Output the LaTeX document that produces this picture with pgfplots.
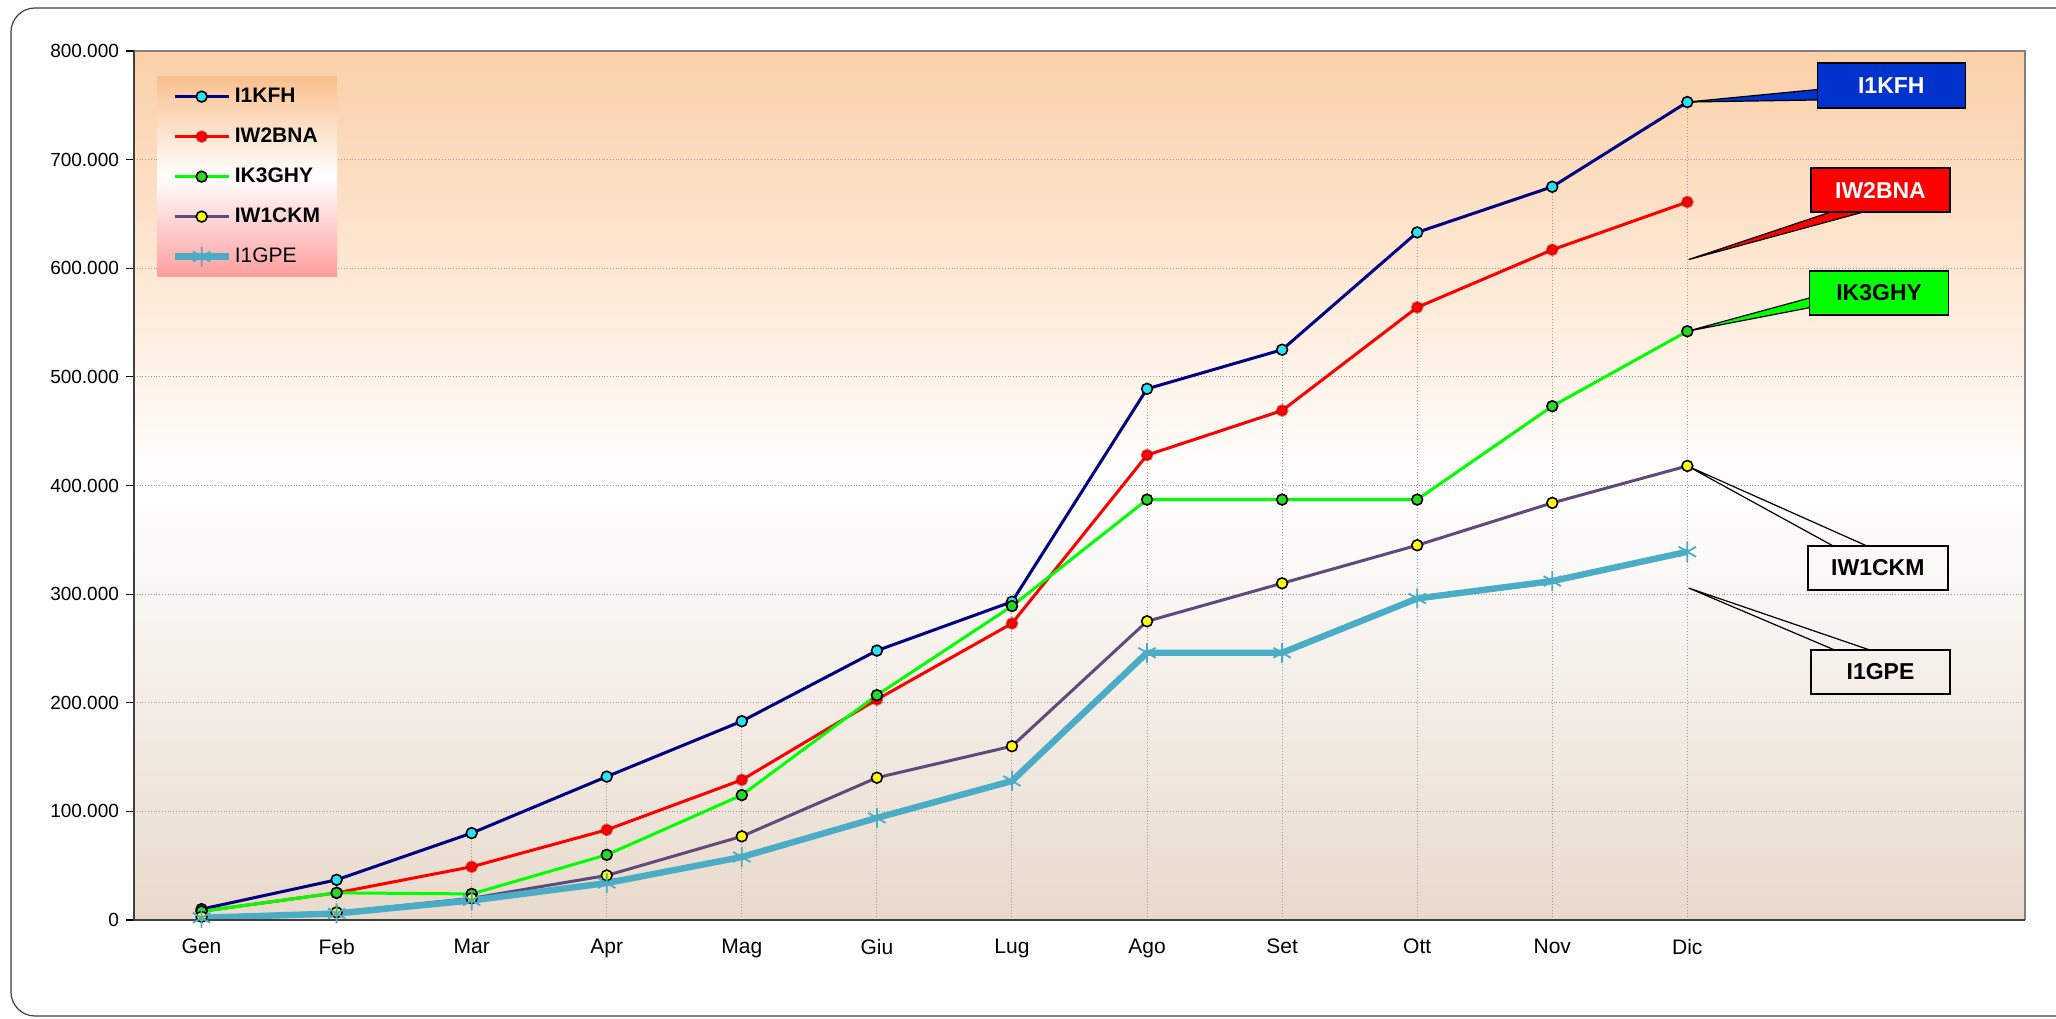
\documentclass[border=0pt]{standalone}
\usepackage{pgfplots}
\pgfplotsset{compat=1.18}
\usepackage{fontspec}
\setmainfont{Liberation Sans}
\definecolor{kfhline}{RGB}{0,0,128}
\definecolor{kfhmark}{RGB}{40,225,250}
\definecolor{bnaline}{RGB}{255,0,0}
\definecolor{ghyline}{RGB}{0,255,0}
\definecolor{ghymark}{RGB}{40,215,40}
\definecolor{ckmline}{RGB}{96,74,123}
\definecolor{ckmmark}{RGB}{255,255,0}
\definecolor{gpeline}{RGB}{75,172,198}
\definecolor{bgtop}{RGB}{251,208,168}
\definecolor{bgbot}{RGB}{232,218,204}
\definecolor{legtop}{RGB}{250,192,142}
\definecolor{legbot}{RGB}{255,158,158}
\definecolor{kfhbox}{RGB}{0,51,204}
\begin{document}
\begin{tikzpicture}
\useasboundingbox (0pt,0pt) rectangle (1028pt,509pt);
\fill[white] (0pt,0pt) rectangle (1028pt,509pt);
\draw[black!75, line width=0.6pt, rounded corners=12pt] (5.5pt,1pt) rectangle (1040pt,505pt);
\begin{axis}[
  at={(67pt,49pt)}, anchor=south west,
  scale only axis, width=945.5pt, height=434.5pt,
  clip=false,
  xmin=-0.5, xmax=13.5, ymin=0, ymax=800000,
  xtick={0,1,2,3,4,5,6,7,8,9,10,11},
  xticklabels={Gen,Feb,Mar,Apr,Mag,Giu,Lug,Ago,Set,Ott,Nov,Dic},
  minor xtick={-0.5,0.5,1.5,2.5,3.5,4.5,5.5,6.5,7.5,8.5,9.5,10.5,11.5,12.5,13.5},
  ytick={0,100000,200000,300000,400000,500000,600000,700000,800000},
  yticklabels={0,100.000,200.000,300.000,400.000,500.000,600.000,700.000,800.000},
  scaled y ticks=false,
  tick align=outside, tick pos=left,
  xtick style={draw=none},
  minor tick length=4pt, major tick length=4pt,
  minor tick style={black, line width=0.6pt},
  ytick style={black, line width=0.6pt},
  ymajorgrids, grid style={gray!80, densely dotted, line width=0.5pt},
  axis line style={draw=none},
  xticklabel style={font=\fontsize{10.5}{12}\selectfont, yshift=-2pt},
  yticklabel style={font=\fontsize{9.5}{11}\selectfont},
  axis background/.style={shade, top color=bgtop, bottom color=bgbot, middle color=white},
  legend cell align=left,
  legend style={at={(0.0122,0.971)}, anchor=north west, draw=none,
    shade, top color=legtop, bottom color=legbot, middle color=white,
    inner xsep=7pt, inner ysep=0pt,
    font=\fontsize{10.5}{12}\selectfont,
    nodes={minimum height=20pt, inner sep=1.5pt}},
  legend image code/.code={\draw[mark repeat=2,mark phase=2] plot coordinates {(0pt,0pt) (13.5pt,0pt) (27pt,0pt)};},
]
\addplot[ycomb, gray!80, densely dotted, line width=0.5pt, no marks, forget plot] coordinates {
(0,10000) (1,37000) (2,80000) (3,132000) (4,183000) (5,248000) (6,293000) (7,489000) (8,525000) (9,633000) (10,675000) (11,753000)};
\addplot[kfhline, line width=1.5pt, mark=*, mark size=2.7pt, mark options={fill=kfhmark, draw=black, line width=0.8pt}] coordinates {
(0,10000) (1,37000) (2,80000) (3,132000) (4,183000) (5,248000) (6,293000) (7,489000) (8,525000) (9,633000) (10,675000) (11,753000)};
\addlegendentry{\textbf{I1KFH}}
\addplot[bnaline, line width=1.5pt, mark=*, mark size=2.7pt, mark options={fill=red, draw=red!70!black, draw opacity=0.5, line width=1pt}] coordinates {
(0,8000) (1,25000) (2,49000) (3,83000) (4,129000) (5,203000) (6,273000) (7,428000) (8,469000) (9,564000) (10,617000) (11,661000)};
\addlegendentry{\textbf{IW2BNA}}
\addplot[ghyline, line width=1.5pt, mark=*, mark size=2.7pt, mark options={fill=ghymark, draw=black, line width=0.8pt}] coordinates {
(0,8000) (1,25000) (2,24000) (3,60000) (4,115000) (5,207000) (6,289000) (7,387000) (8,387000) (9,387000) (10,473000) (11,542000)};
\addlegendentry{\textbf{IK3GHY}}
\addplot[ckmline, line width=1.5pt, mark=*, mark size=2.7pt, mark options={fill=ckmmark, draw=black, line width=0.8pt}] coordinates {
(0,3000) (1,7000) (2,20000) (3,41000) (4,77000) (5,131000) (6,160000) (7,275000) (8,310000) (9,345000) (10,384000) (11,418000)};
\addlegendentry{\textbf{IW1CKM}}
\addplot[gpeline, line width=3.2pt, mark=asterisk, mark size=5pt, mark options={line width=0.9pt}] coordinates {
(0,2000) (1,6000) (2,18000) (3,34000) (4,58000) (5,94000) (6,128000) (7,246000) (8,246000) (9,296000) (10,312000) (11,339000)};
\addlegendentry{I1GPE}
% frame
\draw[gray, line width=1pt] (rel axis cs:0,1) -- (rel axis cs:1,1) -- (rel axis cs:1,0);
\draw[black!75, line width=1.2pt] (rel axis cs:0,1) -- (rel axis cs:0,0) -- (rel axis cs:1,0);
% callouts
\filldraw[fill=kfhbox, draw=black, line width=0.6pt] (axis cs:12.0,765000) -- (axis cs:12.0,755000) -- (axis cs:11,753000) -- cycle;
\node[fill=kfhbox, draw=black, line width=0.8pt, minimum width=74pt, minimum height=22.5pt, text=white, font=\bfseries\fontsize{11.5}{13}\selectfont] at (axis cs:12.51,768000) {I1KFH};
\filldraw[fill=red, draw=black, line width=0.6pt] (axis cs:12.09,653000) -- (axis cs:12.34,653000) -- (axis cs:11.01,608000) -- cycle;
\node[fill=red, draw=black, line width=0.8pt, minimum width=69.5pt, minimum height=22pt, text=white, font=\bfseries\fontsize{11.5}{13}\selectfont] at (axis cs:12.43,672000) {IW2BNA};
\filldraw[fill=ghyline, draw=black, line width=0.6pt] (axis cs:11.93,573500) -- (axis cs:11.93,564300) -- (axis cs:11,542000) -- cycle;
\node[fill=ghyline, draw=black, line width=0.8pt, minimum width=69.5pt, minimum height=22pt, text=black, font=\bfseries\fontsize{11.5}{13}\selectfont] at (axis cs:12.42,577200) {IK3GHY};
\draw[black, line width=0.6pt] (axis cs:12.08,344300) -- (axis cs:11,418000) -- (axis cs:12.33,344300);
\node[draw=black, line width=0.8pt, minimum width=70pt, minimum height=22pt, text=black, font=\bfseries\fontsize{11.5}{13}\selectfont] at (axis cs:12.41,324000) {IW1CKM};
\draw[black, line width=0.6pt] (axis cs:12.09,248600) -- (axis cs:11.01,305600) -- (axis cs:12.35,248600);
\node[draw=black, line width=0.8pt, minimum width=69.5pt, minimum height=22pt, text=black, font=\bfseries\fontsize{11.5}{13}\selectfont] at (axis cs:12.43,228300) {I1GPE};
\end{axis}
\end{tikzpicture}
\end{document}
